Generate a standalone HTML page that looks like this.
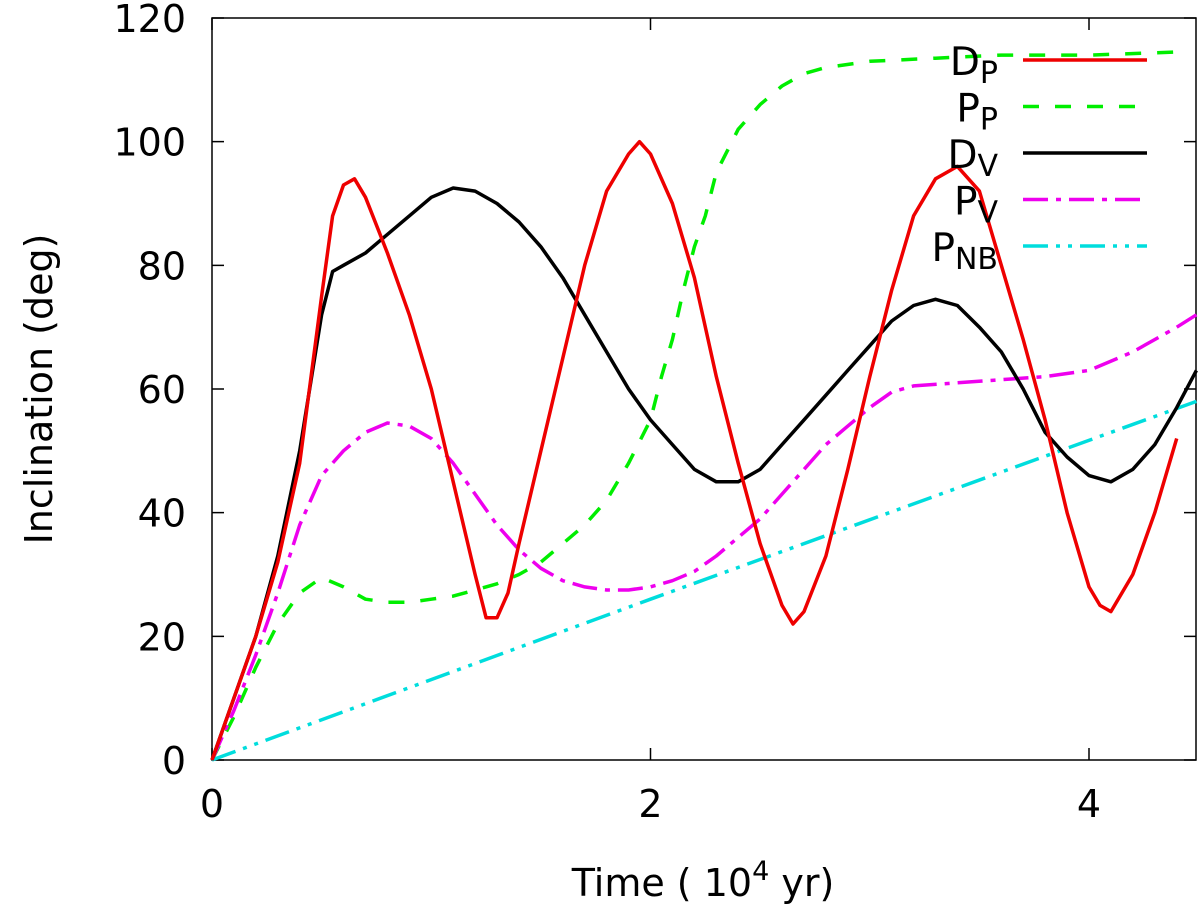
<!DOCTYPE html>
<html><head><meta charset="utf-8"><style>
body{margin:0;background:#fff}
svg{display:block;font-family:"DejaVu Sans","Liberation Sans",sans-serif}
</style></head><body>
<svg id="chart" width="1200" height="917" viewBox="0 0 1200 917" xmlns="http://www.w3.org/2000/svg">
<g id="axes"></g>
<g id="series"></g>
<g id="legend"></g>
<text transform="translate(52,389) rotate(-90)" text-anchor="middle" font-size="38">Inclination (deg)</text>
<text x="703" y="896" text-anchor="middle" font-size="38">Time ( 10<tspan dy="-16" font-size="27">4</tspan><tspan dy="16"> yr)</tspan></text>
</svg>
<script>
const xTicks=[0,2,4];
const yTicks=[0,20,40,60,80,100,120];
const tDP=[0,0.1,0.2,0.3,0.4,0.5,0.55,0.6,0.65,0.7,0.8,0.9,1.0,1.1,1.2,1.25,1.3,1.35,1.4,1.5,1.6,1.7,1.8,1.9,1.95,2.0,2.1,2.2,2.3,2.4,2.5,2.6,2.65,2.7,2.8,2.9,3.0,3.1,3.2,3.3,3.4,3.5,3.6,3.7,3.8,3.9,4.0,4.05,4.1,4.2,4.3,4.4];
const vDP=[0,10,20,32,48,75,88,93,94,91,82,72,60,45,30,23,23,27,35,50,65,80,92,98,100,98,90,78,62,48,35,25,22,24,33,47,62,76,88,94,96,92,80,68,55,40,28,25,24,30,40,52];
const tPP=[0,0.1,0.2,0.3,0.4,0.5,0.6,0.7,0.8,0.9,1.0,1.1,1.2,1.3,1.4,1.5,1.6,1.7,1.8,1.9,2.0,2.05,2.1,2.15,2.2,2.25,2.3,2.4,2.5,2.6,2.7,2.8,3.0,3.3,3.6,4.0,4.4];
const vPP=[0,7,15,22,27,29.5,28,26,25.5,25.5,26,26.5,27.5,28.5,30,32,35,38,42,48,55,62,68,76,83,88,95,102,106,109,111,112,113,113.5,114,114,114.5];
const tDV=[0,0.1,0.2,0.3,0.4,0.5,0.55,0.6,0.7,0.8,0.9,1.0,1.1,1.2,1.3,1.4,1.5,1.6,1.7,1.8,1.9,2.0,2.1,2.2,2.3,2.4,2.5,2.6,2.7,2.8,2.9,3.0,3.1,3.2,3.3,3.4,3.5,3.6,3.7,3.8,3.9,4.0,4.1,4.2,4.3,4.4,4.49];
const vDV=[0,10,20,33,50,72,79,80,82,85,88,91,92.5,92,90,87,83,78,72,66,60,55,51,47,45,45,47,51,55,59,63,67,71,73.5,74.5,73.5,70,66,60,53,49,46,45,47,51,57,63];
const tPV=[0,0.1,0.2,0.3,0.4,0.5,0.6,0.7,0.8,0.9,1.0,1.1,1.2,1.3,1.4,1.5,1.6,1.7,1.8,1.9,2.0,2.1,2.2,2.3,2.4,2.5,2.6,2.7,2.8,2.9,3.0,3.1,3.2,3.4,3.6,3.8,4.0,4.2,4.4,4.49];
const vPV=[0,8,17,27,38,46,50,53,54.5,54,52,48,43,38,34,31,29,28,27.5,27.5,28,29,30.5,33,36,39,43,47,51,54,57,59.5,60.5,61,61.5,62,63,66,70,72];
const tNB=[0,2,4.49];
const vNB=[0,26,58];

const X0=212,X1=1196,Y0=760,Y1=18,XMAX=(1196-212)/219.25,YMAX=120;
const sx=t=>X0+t*(X1-X0)/XMAX;
const sy=v=>Y0-v*(Y0-Y1)/YMAX;
const NS="http://www.w3.org/2000/svg";
function mk(tag,attrs,parent){const e=document.createElementNS(NS,tag);for(const k in attrs)e.setAttribute(k,attrs[k]);parent.appendChild(e);return e;}
const axes=document.getElementById('axes');
const frame=mk('rect',{x:X0,y:Y1,width:X1-X0,height:Y0-Y1,fill:'none',stroke:'#000','stroke-width':1.5},axes);


yTicks.forEach(v=>{
  const y=sy(v);
  const l=mk('path',{d:`M${X0},${y}h12M${X1},${y}h-12`,stroke:'#000','stroke-width':1.5},axes);
  
  
  const t=mk('text',{x:X0-26,y:y+14,'text-anchor':'end','font-size':38},axes);
  t.textContent=v;
  
  
});
xTicks.forEach(v=>{
  const x=sx(v);
  const l=mk('path',{d:`M${x},${Y0}v-12M${x},${Y1}v12`,stroke:'#000','stroke-width':1.5},axes);
  
  
  const t=mk('text',{x:x,y:Y0+57,'text-anchor':'middle','font-size':38},axes);
  t.textContent=v;
  
  
});
const ser=document.getElementById('series');
const defs=[
 [tPP,vPP,'#00ee00','16,16','series-pp'],
 [tPV,vPV,'#ee00ee','25,8,5,8','series-pv'],
 [tNB,vNB,'#00dddd','25,8,4,8,4,8','series-pnb'],
 [tDV,vDV,'#000000','','series-dv'],
 [tDP,vDP,'#ee0000','','series-dp'],
];
defs.forEach(([ts,vs,c,da,name])=>{
  const d=ts.map((t,i)=>(i?'L':'M')+sx(t).toFixed(1)+','+sy(vs[i]).toFixed(1)).join('');
  const p=mk('path',{d:d,fill:'none',stroke:c,'stroke-width':3.5,'stroke-dasharray':da,'stroke-linejoin':'round'},ser);
  
  
});
const leg=document.getElementById('legend');
const legItems=[['D','P','#ee0000',''],['P','P','#00ee00','16,16'],['D','V','#000000',''],['P','V','#ee00ee','25,8,5,8'],['P','NB','#00dddd','25,8,4,8,4,8']];
legItems.forEach(([a,b,c,da],i)=>{
  const y=60+i*46.5;
  const t=mk('text',{x:998,y:y+15,'text-anchor':'end','font-size':39},leg);
  t.innerHTML=a+'<tspan dy="8" font-size="30">'+b+'</tspan>';
  
  
  const l=mk('line',{x1:1023,x2:1147,y1:y,y2:y,stroke:c,'stroke-width':3.5,'stroke-dasharray':da},leg);
  
  
});
</script>
</body></html>
